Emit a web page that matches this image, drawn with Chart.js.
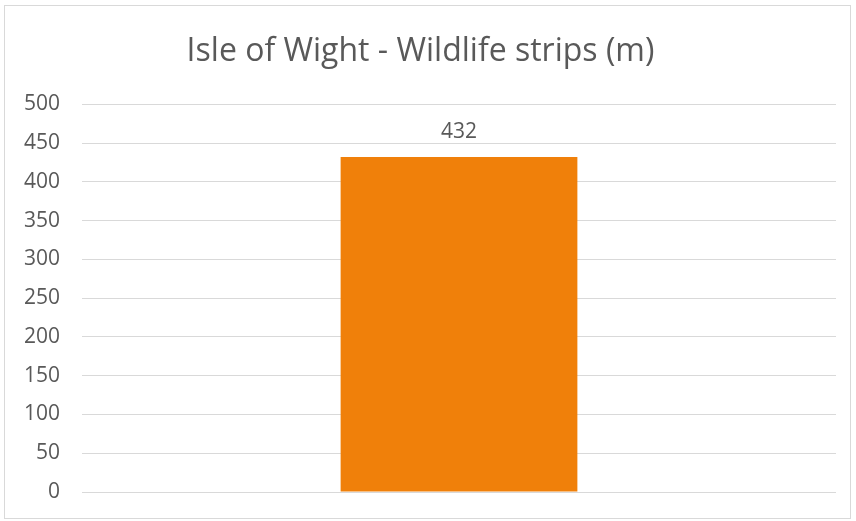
<!DOCTYPE html>
<html>
<head>
<meta charset="utf-8">
<script src="https://cdn.jsdelivr.net/npm/chart.js@4/dist/chart.umd.min.js"></script>
<style>
  html, body { margin: 0; padding: 0; background: #fff; }
  #wrap { position: relative; width: 856px; height: 521px; }
  #frame { position: absolute; left: 4px; top: 5px; width: 847px; height: 514px; border: 1px solid #d9d9d9; box-sizing: border-box; pointer-events: none; }
</style>
</head>
<body>
<div id="wrap">
  <canvas id="chart" width="856" height="521"></canvas>
  <div id="frame"></div>
</div>
<script>
// 数据
const categories = ['Isle of Wight'];
const stripLengths = [432];
const yTicks = [0, 50, 100, 150, 200, 250, 300, 350, 400, 450, 500];

const FONT = "'Open Sans', 'Liberation Sans', sans-serif";
const TEXT = '#595959';

// 柱顶数值标签
const valueLabels = {
  id: 'valueLabels',
  afterDatasetsDraw(chart) {
    const { ctx } = chart;
    const meta = chart.getDatasetMeta(0);
    ctx.save();
    ctx.font = `21px ${FONT}`;
    ctx.fillStyle = TEXT;
    ctx.textAlign = 'center';
    ctx.textBaseline = 'alphabetic';
    meta.data.forEach((bar, i) => {
      ctx.fillText(String(stripLengths[i]), bar.x, bar.y - 19);
    });
    ctx.restore();
  },
};

new Chart(document.getElementById('chart'), {
  type: 'bar',
  data: {
    labels: categories,
    datasets: [{
      label: 'Wildlife strips (m)',
      data: stripLengths,
      backgroundColor: '#f0800a',
      barPercentage: 0.314,
      categoryPercentage: 1,
    }],
  },
  options: {
    responsive: false,
    animation: false,
    layout: { padding: { left: 5, right: 20, top: 8, bottom: 29 } },
    plugins: {
      legend: { display: false },
      tooltip: { enabled: false },
      title: {
        display: true,
        text: 'Isle of Wight - Wildlife strips (m)',
        color: TEXT,
        font: { family: FONT, size: 32, weight: 'normal' },
        padding: { top: 25, bottom: 33 },
      },
    },
    scales: {
      x: { display: false },
      y: {
        min: 0,
        max: 500,
        afterBuildTicks: (scale) => { scale.ticks = yTicks.map((v) => ({ value: v })); },
        afterFit: (scale) => {
          scale.width = 77;
          scale.paddingTop = 0;
          scale.paddingBottom = 0;
        },
        border: { display: false },
        grid: { color: '#d9d9d9', lineWidth: 1, drawTicks: false },
        ticks: { color: TEXT, font: { family: FONT, size: 21 }, padding: 22 },
      },
    },
  },
  plugins: [valueLabels],
});
</script>
</body>
</html>
